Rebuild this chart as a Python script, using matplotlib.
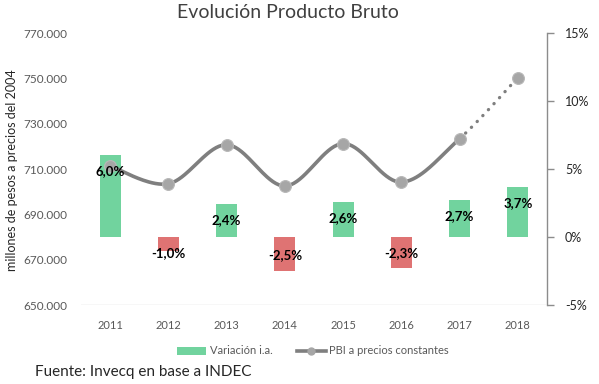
import numpy as np
import matplotlib
matplotlib.use("Agg")
import matplotlib.pyplot as plt
from matplotlib.patches import Patch
from matplotlib.lines import Line2D
from matplotlib.ticker import FuncFormatter

years = ["2011", "2012", "2013", "2014", "2015", "2016", "2017", "2018"]
variacion = [6.0, -1.0, 2.4, -2.5, 2.6, -2.3, 2.7, 3.7]
pbi = [711300, 703500, 720700, 702500, 721200, 704200, 723400, 750300]

GREEN = "#71D39E"
RED = "#DF7373"
LINE = "#7F7F7F"
MARK = "#A6A6A6"

plt.rcParams['font.family'] = ['Lato', 'DejaVu Sans']

fig = plt.figure(figsize=(5.99, 3.84), dpi=100)
L, R, B, T = 81/599, 547/599, 1-305/384, 1-33/384
ax = fig.add_axes([L, B, R-L, T-B])
ax2 = ax.twinx()
ax.set_zorder(2)
ax.patch.set_visible(False)
ax2.set_zorder(1)

x = np.arange(len(years))

# bars on the right (percentage) axis
colors = [GREEN if v >= 0 else RED for v in variacion]
ax2.bar(x, variacion, width=0.36, color=colors, zorder=1)
ax2.set_ylim(-5, 15)
ax2.set_yticks([-5, 0, 5, 10, 15])
ax2.yaxis.set_major_formatter(FuncFormatter(lambda v, p: f"{int(v)}%"))

# smooth line (Catmull-Rom bezier like Excel)
def smooth(xs, ys, n=40):
    xs = np.asarray(xs, float); ys = np.asarray(ys, float)
    segs = []
    for i in range(len(xs)-1):
        p0 = np.array([xs[max(i-1, 0)], ys[max(i-1, 0)]])
        p1 = np.array([xs[i], ys[i]])
        p2 = np.array([xs[i+1], ys[i+1]])
        p3 = np.array([xs[min(i+2, len(xs)-1)], ys[min(i+2, len(xs)-1)]])
        c1 = p1 + (p2 - p0)/6
        c2 = p2 - (p3 - p1)/6
        t = np.linspace(0, 1, n)[:, None]
        pts = (1-t)**3*p1 + 3*(1-t)**2*t*c1 + 3*(1-t)*t**2*c2 + t**3*p2
        segs.append(pts)
    return segs

segs = smooth(x, pbi)
solid = np.vstack(segs[:-1])
ax.plot(solid[:, 0], solid[:, 1], color=LINE, lw=2.6, solid_capstyle='round', zorder=3)
ax.plot(segs[-1][:, 0], segs[-1][:, 1], color=LINE, lw=2.4, ls=(0, (0.05, 2.4)),
        dash_capstyle='round', zorder=3)
ax.plot(x, pbi, ls='none', marker='o', ms=8.5, color=MARK, mec='#B8B8B8', mew=0.8, zorder=4)

ax.set_ylim(650000, 770000)
ax.set_yticks(np.arange(650000, 770001, 20000))
ax.yaxis.set_major_formatter(FuncFormatter(lambda v, p: f"{int(v):,}".replace(",", ".")))
ax.set_xlim(-0.5, 7.5)
ax.set_xticks(x)
ax.set_xticklabels(years)

for a in (ax, ax2):
    for s in ('top', 'left', 'right', 'bottom'):
        a.spines[s].set_visible(False)

ax.axhline(650000, color='#D9D9D9', lw=1.0, zorder=0)
ax2.spines['right'].set_visible(True)
ax2.spines['right'].set_color('#8C8C8C')
ax2.spines['right'].set_linewidth(1.0)

ax.tick_params(axis='y', length=0, pad=10, labelsize=8.5, labelcolor='#595959')
ax.tick_params(axis='x', length=0, pad=11, labelsize=8, labelcolor='#595959')
ax2.tick_params(axis='y', length=5, width=1, color='#8C8C8C', pad=8, labelsize=9, labelcolor='#262626')

# data labels (inside end)
pad = 20 * 16 / 272
for i, v in enumerate(variacion):
    d = max(abs(v) - pad, pad)
    yy = d if v >= 0 else -d
    lab = f"{v:.1f}%".replace(".", ",")
    ax.text(i, yy, lab, transform=ax2.transData, ha='center', va='center',
            fontsize=9.5, fontweight='bold', color='black', zorder=6)

fig.text(287.5/599, 1-13/384, "Evolución Producto Bruto", ha='center', va='center',
         fontsize=14, color='#404040', fontweight='normal')
fig.text(12/599, 1-170/384, "millones de pesos a precios del 2004", rotation=90,
         ha='center', va='center', fontsize=9, color='#262626')
fig.text(35/599, 1-372/384, "Fuente: Invecq en base a INDEC", ha='left', va='center',
         fontsize=11, color='#262626')

handles = [Patch(facecolor=GREEN, edgecolor='none'),
           Line2D([0], [0], color=LINE, lw=2.6, marker='o', ms=5, mfc=MARK, mec=MARK)]
fig.legend(handles, ["Variación i.a.", "PBI a precios constantes"], loc='center',
           bbox_to_anchor=(313/599, 1-351/384), ncol=2, frameon=False, fontsize=8,
           handlelength=2.6, handleheight=0.7, columnspacing=2.2, handletextpad=0.3,
           labelcolor='#595959')

fig.savefig("out.png", dpi=100)
